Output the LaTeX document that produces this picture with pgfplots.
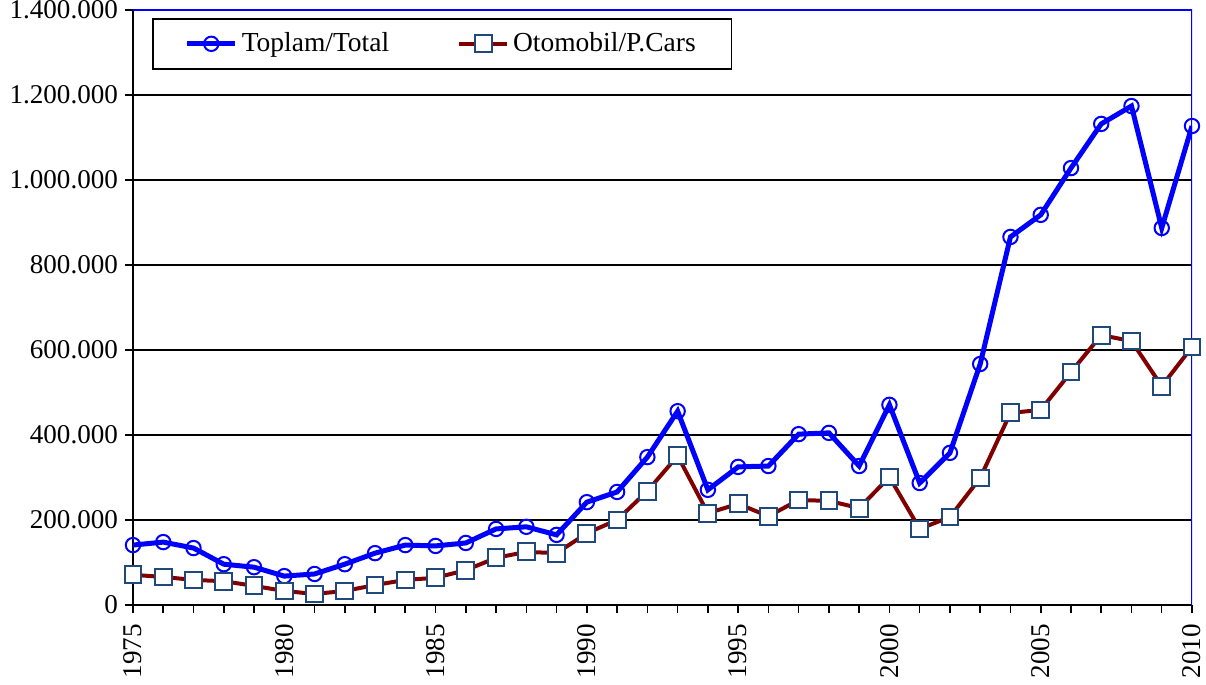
\documentclass[border=0pt]{standalone}
\usepackage{fontspec}
\setmainfont{Liberation Serif}
\usepackage{pgfplots}
\pgfplotsset{compat=1.18}
\usetikzlibrary{calc}
\definecolor{totblue}{RGB}{0,0,255}
\definecolor{carred}{RGB}{128,0,0}
\definecolor{sqedge}{RGB}{31,73,125}
\pgfplotstableread{
year total cars
1975 141000 71000
1976 148000 66000
1977 134000 59000
1978 96000 56000
1979 89000 45000
1980 68000 33000
1981 73000 26000
1982 96000 33000
1983 122000 47000
1984 141000 59000
1985 139000 64000
1986 146000 82000
1987 179000 111000
1988 184000 125000
1989 165000 122000
1990 242000 169000
1991 266000 200000
1992 348000 268000
1993 456000 351000
1994 271000 216000
1995 325000 238000
1996 327000 209000
1997 402000 247000
1998 405000 245000
1999 327000 228000
2000 471000 301000
2001 287000 179000
2002 358000 207000
2003 567000 299000
2004 866000 452000
2005 918000 459000
2006 1028000 548000
2007 1132000 635000
2008 1174000 621000
2009 887000 515000
2010 1127000 607000
}\datatable
\begin{document}
\begin{tikzpicture}
\begin{axis}[
  scale only axis,
  width=529.5bp, height=297.5bp,
  xmin=1975, xmax=2010,
  ymin=0, ymax=1400000,
  axis x line*=bottom, axis y line*=left,
  axis line style={black, line width=0.8bp},
  ytick={0,200000,...,1400000},
  xtick={1975,1980,...,2010},
  minor xtick={1975,...,2010},
  tick align=outside,
  major tick length=4bp, minor tick length=4bp,
  tick style={black, line width=0.8bp},
  ymajorgrids,
  grid style={black, line width=0.6bp},
  scaled y ticks=false,
  tick label style={font=\rmfamily\fontsize{13.6}{16}\selectfont},
  yticklabel style={/pgf/number format/.cd, fixed, 1000 sep={.}, assume math mode=true},
  xticklabel style={rotate=90, anchor=east, /pgf/number format/.cd, 1000 sep={}, assume math mode=true},
  xticklabel shift=2bp,
  legend columns=2,
  legend style={at={(rel axis cs:0,1)}, xshift=9.5bp, yshift=-4bp, anchor=north west,
    draw=black, line width=0.8bp, inner xsep=16bp, inner ysep=5bp,
    font=\rmfamily\fontsize{13.8}{16}\selectfont,
    /tikz/every even column/.append style={column sep=32bp}},
  legend image code/.code={\draw[mark repeat=2,mark phase=2] plot coordinates {(0bp,0bp) (12bp,0bp) (24bp,0bp)};},
]
\addplot[totblue, line width=2.5bp, mark=o, mark size=3.6bp,
  mark options={solid, fill=white, draw=totblue, line width=1bp}]
  table[x=year, y=total] {\datatable};
\addlegendentry{Toplam/Total}
\addplot[carred, line width=2bp, mark=square*, mark size=4.2bp,
  mark options={solid, fill=white, draw=sqedge, line width=1bp}]
  table[x=year, y=cars] {\datatable};
\addlegendentry{Otomobil/P.Cars}
\draw[totblue, line width=0.8bp] (rel axis cs:0,1) -- (rel axis cs:1,1) -- (rel axis cs:1,0);
\end{axis}
\pgfresetboundingbox
\path[use as bounding box] ($(current axis.south west)+(-66.5bp,-40bp)$) rectangle ($(current axis.north east)+(7bp,5bp)$);
\end{tikzpicture}
\end{document}
